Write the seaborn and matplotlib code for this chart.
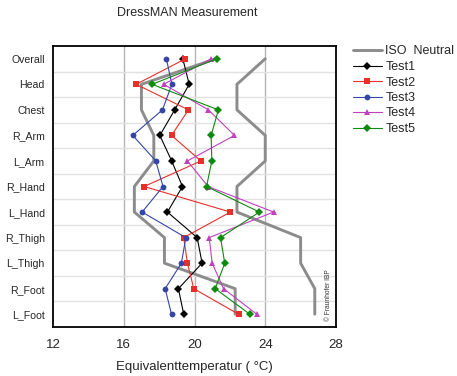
import matplotlib
matplotlib.use("Agg")
import matplotlib.pyplot as plt
import seaborn as sns
import pandas as pd
import numpy as np

categories = ["Overall", "Head", "Chest", "R_Arm", "L_Arm", "R_Hand", "L_Hand",
              "R_Thigh", "L_Thigh", "R_Foot", "L_Foot"]
iso_low = [21.2, 17.0, 17.0, 17.7, 17.7, 16.6, 16.6, 18.3, 18.3, 22.3, 22.3]
iso_high = [24.0, 22.4, 22.4, 24.0, 24.0, 22.4, 22.4, 26.0, 26.0, 26.8, 26.8]
test1 = [19.34, 19.70, 18.88, 18.04, 18.71, 19.32, 18.47, 20.15, 20.43, 19.09, 19.39]
test2 = [19.49, 16.70, 19.66, 18.70, 20.36, 17.15, 22.03, 19.39, 19.60, 19.96, 22.49]
test3 = [18.41, 18.72, 18.19, 16.51, 17.81, 18.22, 17.04, 19.51, 19.26, 18.34, 18.70]
test4 = [20.94, 18.26, 20.79, 22.26, 19.60, 20.77, 24.47, 20.83, 21.00, 21.64, 23.52]
test5 = [21.26, 17.60, 21.35, 20.94, 20.98, 20.68, 23.67, 21.47, 21.71, 21.17, 23.13]
x_ticks = [12, 16, 20, 24, 28]

sns.set_theme(style="white")
plt.rcParams['font.family'] = ['Liberation Sans', 'DejaVu Sans']

fig = plt.figure(figsize=(4.57, 3.76), dpi=100)
ax = fig.add_axes([53/457, 1-327/376, (336-53)/457, (327-46)/376])

pos = np.arange(len(categories))

iso_color = "#8c8c8c"
for vals, lab in [(iso_low, "ISO  Neutral"), (iso_high, None)]:
    df = pd.DataFrame({"v": vals, "p": pos})
    sns.lineplot(data=df, x="v", y="p", sort=False, estimator=None, ax=ax,
                 color=iso_color, linewidth=2.1, label=lab, legend=False,
                 orient="y")

series = [
    ("Test1", test1, "black", "D", 3.8),
    ("Test2", test2, "#e8302a", "s", 4.0),
    ("Test3", test3, "#3346a8", "o", 4.2),
    ("Test4", test4, "#c040c0", "^", 4.8),
    ("Test5", test5, "#0e8a0e", "D", 3.8),
]
for name, vals, col, mk, ms in series:
    df = pd.DataFrame({"v": vals, "p": pos})
    sns.lineplot(data=df, x="v", y="p", sort=False, estimator=None, ax=ax,
                 color=col, linewidth=0.8, marker=mk, markersize=ms,
                 markeredgewidth=0, label=name, legend=False, orient="y")

ax.set_xlim(12, 28)
ax.set_ylim(10.5, -0.5)
ax.set_xticks(x_ticks)
ax.set_xticklabels([str(t) for t in x_ticks], fontsize=9.5)
ax.set_yticks(pos)
ax.set_yticklabels(categories, fontsize=7.6)
ax.tick_params(axis="both", length=0)
ax.tick_params(axis="x", pad=9)
ax.tick_params(axis="y", pad=6)

for g in [16, 20, 24]:
    ax.axvline(g, color="#b4b4b4", linewidth=1.0, zorder=0)
for h in np.arange(0.5, 10.5, 1.0):
    ax.axhline(h, color="#e2e2e2", linewidth=1.0, zorder=0)

for s in ax.spines.values():
    s.set_color("black")
    s.set_linewidth(1.3)
    s.set_visible(True)

ax.set_xlabel("Equivalenttemperatur ( °C)", fontsize=9.5, labelpad=7)
ax.set_ylabel("")

ax.text(0.975, 0.02, "© Fraunhofer IBP", transform=ax.transAxes, rotation=90,
        fontsize=4.8, ha="center", va="bottom", color="#333333")

fig.text(187/457, 1-13/376, "DressMAN Measurement", ha="center", va="center",
         fontsize=9)

handles, labels = ax.get_legend_handles_labels()
leg = fig.legend(handles, labels, loc="upper left",
                 bbox_to_anchor=(350/457, 1-43/376), frameon=False,
                 fontsize=9, handlelength=2.35, handletextpad=0.28,
                 labelspacing=0.28, borderaxespad=0, borderpad=0.2)

fig.savefig("out.png", dpi=100)
